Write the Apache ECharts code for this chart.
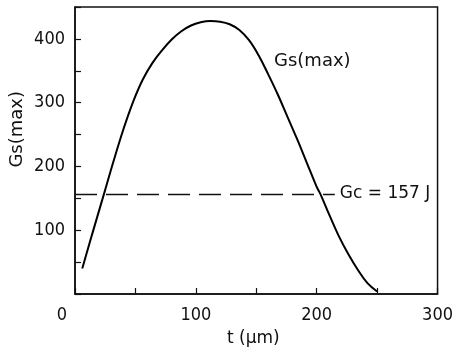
<!DOCTYPE html>
<html>
<head>
<meta charset="utf-8">
<script src="https://cdn.jsdelivr.net/npm/echarts@6/dist/echarts.min.js"></script>
<style>
  html, body { margin: 0; padding: 0; background: #fff; }
  #chart { width: 456px; height: 355px; }
</style>
</head>
<body>
<div id="chart"></div>
<script>
// t in µm, Gs(max)
const tValues = [6, 15, 24, 32, 40, 48, 56, 64, 72, 80, 88, 96, 104, 112, 120, 128, 136, 144, 152, 160,
  168, 176, 184, 192, 200, 203, 210, 218, 226, 234, 242, 250];
const gsMax = [40, 99, 157, 209, 258, 301, 336, 362, 382, 399, 412, 421, 426, 428, 427, 423, 414, 398, 374, 344,
  312, 277, 242, 205, 168, 157, 126, 92, 63, 38, 17, 4];
const gcValue = 157;
const gcEnd = 215;
const xTickLabels = [0, 100, 200, 300];
const yTickLabels = [100, 200, 300, 400];

const TICK_FONT = '"DejaVu Sans Condensed", sans-serif';
const TEXT_FONT = '"DejaVu Sans", sans-serif';

const chart = echarts.init(document.getElementById('chart'));

const option = {
  backgroundColor: '#fff',
  animation: false,
  grid: {
    left: 75,
    right: 12,
    top: 7,
    bottom: 61,
    show: true,
    borderColor: '#111',
    borderWidth: 1.5,
  },
  xAxis: {
    type: 'value',
    min: 0,
    max: 300,
    interval: 50,
    axisLine: { show: true, lineStyle: { color: '#111', width: 1.5 } },
    axisTick: { show: true, inside: true, length: 6, lineStyle: { color: '#111', width: 1.2 } },
    splitLine: { show: false },
    axisLabel: {
      color: '#111',
      fontFamily: TICK_FONT,
      fontSize: 18,
      margin: 12,
      formatter: (v) => {
        if (!xTickLabels.includes(v)) return '';
        if (v === 0) return '{o|0}';
        return String(v);
      },
      rich: {
        o: { fontFamily: TICK_FONT, fontSize: 18, color: '#111', padding: [0, 26, 0, 0] },
      },
    },
  },
  yAxis: {
    type: 'value',
    min: 0,
    max: 450,
    interval: 50,
    axisLine: { show: true, lineStyle: { color: '#111', width: 1.5 } },
    axisTick: { show: true, inside: true, length: 6, lineStyle: { color: '#111', width: 1.2 } },
    splitLine: { show: false },
    axisLabel: {
      color: '#111',
      fontFamily: TICK_FONT,
      fontSize: 18,
      margin: 10,
      formatter: (v) => (yTickLabels.includes(v) ? String(v) : ''),
    },
  },
  graphic: [
    {
      type: 'text',
      left: 8,
      top: 91,
      rotation: Math.PI / 2,
      style: { text: 'Gs(max)', font: '18px ' + TEXT_FONT, fill: '#111' },
    },
    {
      type: 'text',
      left: 274,
      top: 52,
      style: { text: 'Gs(max)', font: '18px ' + TEXT_FONT, fill: '#111' },
    },
    {
      type: 'text',
      left: 227,
      top: 330,
      style: { text: 't (µm)', font: '17px ' + TEXT_FONT, fill: '#111' },
    },
  ],
  series: [
    {
      type: 'line',
      data: tValues.map((t, i) => [t, gsMax[i]]),
      smooth: 0.4,
      showSymbol: false,
      lineStyle: { color: '#000', width: 2 },
      markLine: {
        silent: true,
        symbol: ['none', 'none'],
        lineStyle: { color: '#111', width: 1.3, type: [22, 9] },
        label: {
          show: true,
          position: 'end',
          formatter: 'Gc = 157 J',
          color: '#111',
          fontFamily: TEXT_FONT,
          fontSize: 17,
          distance: 5,
        },
        data: [[{ coord: [0, gcValue] }, { coord: [gcEnd, gcValue] }]],
      },
    },
  ],
};

chart.setOption(option);
</script>
</body>
</html>
